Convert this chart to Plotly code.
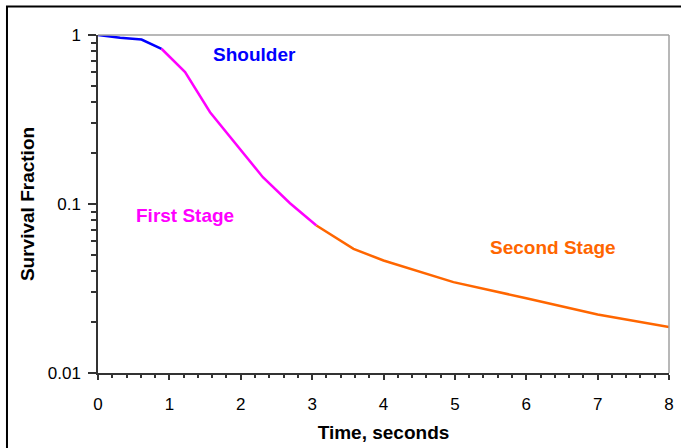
import plotly.graph_objects as go
import math

# Data
shoulder_t = [0, 0.31, 0.61, 0.89]
shoulder_s = [1.0, 0.963, 0.94, 0.829]
first_t = [0.89, 1.22, 1.57, 2.31, 2.69, 3.06]
first_s = [0.829, 0.603, 0.349, 0.144, 0.101, 0.0746]
second_t = [3.06, 3.58, 4.0, 4.98, 6.0, 7.0, 8.0]
second_s = [0.0746, 0.0543, 0.0463, 0.0345, 0.0277, 0.0222, 0.0187]

y_tick_vals = [0.01, 0.1, 1]
y_tick_text = ["0.01", "0.1", "1"]
x_tick_vals = [0, 1, 2, 3, 4, 5, 6, 7, 8]

FONT = "Arial, Liberation Sans, sans-serif"

fig = go.Figure()
fig.add_trace(go.Scatter(x=shoulder_t, y=shoulder_s, mode="lines",
                         line=dict(color="#0000ff", width=2.5), showlegend=False))
fig.add_trace(go.Scatter(x=first_t, y=first_s, mode="lines",
                         line=dict(color="#ff00ff", width=2.5), showlegend=False))
fig.add_trace(go.Scatter(x=second_t, y=second_s, mode="lines",
                         line=dict(color="#ff6600", width=2.5), showlegend=False))

minor_y = [m * d for d in (0.01, 0.1) for m in range(2, 10)]
minor_x = [i * 0.2 for i in range(41) if i % 5 != 0]

fig.update_xaxes(range=[0, 8], tickvals=x_tick_vals, ticks="outside", ticklen=5,
                 tickcolor="#333333", tickwidth=1.5, ticklabelstandoff=10,
                 showline=True, linecolor="#333333", linewidth=1.5, showgrid=False,
                 zeroline=False, tickfont=dict(family=FONT, size=17, color="#000"),
                 automargin=False,
                 minor=dict(tickvals=minor_x, ticks="outside", ticklen=3,
                            tickcolor="#333333", tickwidth=1.5),
                 title=dict(text="<b>Time, seconds</b>", standoff=13,
                            font=dict(family=FONT, size=19, color="#000")))
fig.update_yaxes(type="log", range=[-2, 0], tickvals=y_tick_vals, ticktext=y_tick_text,
                 ticks="outside", ticklen=8, tickcolor="#333333", tickwidth=1.5,
                 showline=True, linecolor="#333333", linewidth=1.5, showgrid=False,
                 zeroline=False, tickfont=dict(family=FONT, size=17, color="#000"),
                 ticklabelstandoff=4, automargin=False,
                 minor=dict(tickvals=minor_y, ticks="outside", ticklen=5,
                            tickcolor="#333333", tickwidth=1.5),
                 title=dict(text="<b>Survival Fraction</b>", standoff=8,
                            font=dict(family=FONT, size=19, color="#000")))

# gray top/right plot border
fig.add_shape(type="line", xref="x domain", yref="y domain", x0=0, x1=1, y0=1, y1=1,
              line=dict(color="#a0a0a0", width=1.5))
fig.add_shape(type="line", xref="x domain", yref="y domain", x0=1, x1=1, y0=0, y1=1,
              line=dict(color="#a0a0a0", width=1.5))
# outer chart border (extends past right/bottom edges)
fig.add_shape(type="rect", xref="paper", yref="paper",
              x0=-0.1594, x1=1.05, y0=-0.27, y1=1.0842,
              line=dict(color="#000000", width=2), layer="below")

ann_font = dict(family=FONT, size=19)
fig.add_annotation(x=2.19, y=-0.115, text="<b>Shoulder</b>", showarrow=False,
                   font=dict(color="#0000ff", **ann_font))
fig.add_annotation(x=1.22, y=-1.068, text="<b>First Stage</b>", showarrow=False,
                   font=dict(color="#ff00ff", **ann_font))
fig.add_annotation(x=6.37, y=-1.257, text="<b>Second Stage</b>", showarrow=False,
                   font=dict(color="#ff6600", **ann_font))

fig.update_layout(width=681, height=448, margin=dict(l=98, r=12, t=34.5, b=75),
                  paper_bgcolor="white", plot_bgcolor="white")
fig.write_html("out.html")
